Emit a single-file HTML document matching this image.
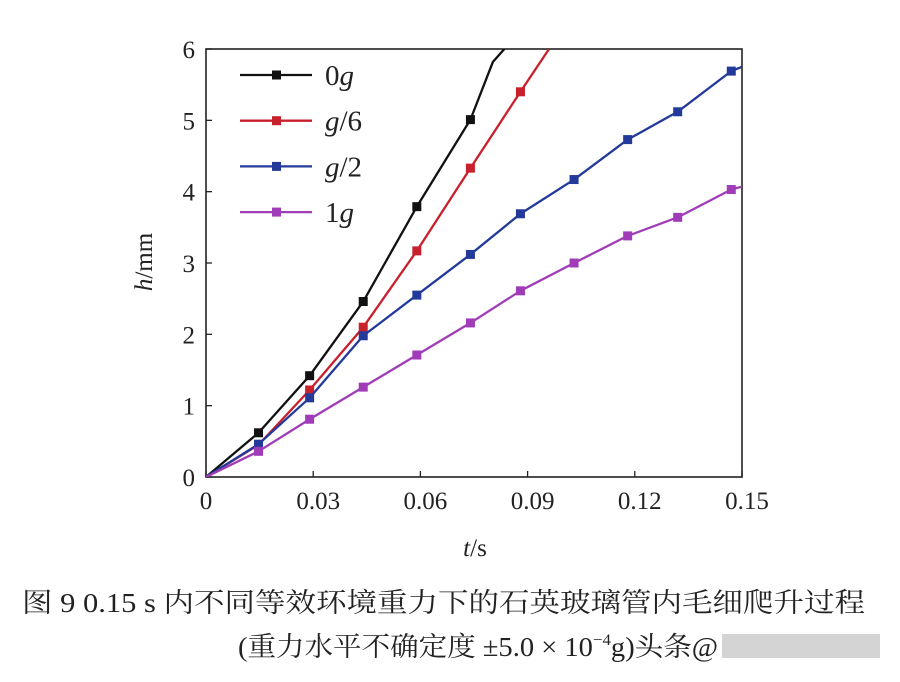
<!DOCTYPE html>
<html><head><meta charset="utf-8"><style>
body{margin:0;background:#fff;}
svg text{font-family:"Liberation Serif","Noto Serif CJK SC",serif;fill:#222;}
</style></head><body>
<svg width="900" height="677" xmlns="http://www.w3.org/2000/svg">
<g id="grid"></g>
<g id="series"></g>
<g id="legend"></g>
<text x="475" y="556" font-size="25" text-anchor="middle"><tspan font-style="italic">t</tspan>/s</text>
<text transform="translate(152,262) rotate(-90)" font-size="25" text-anchor="middle"><tspan font-style="italic">h</tspan>/mm</text>
<text x="22" y="612" font-size="27" textLength="843" lengthAdjust="spacingAndGlyphs">图 9  0.15 s 内不同等效环境重力下的石英玻璃管内毛细爬升过程</text>
<text x="238" y="656" font-size="27" textLength="480" lengthAdjust="spacingAndGlyphs">(重力水平不确定度 ±5.0 × 10<tspan font-size="16" dy="-11">−4</tspan><tspan dy="11">g)头条@</tspan></text>
<rect x="722" y="634" width="158" height="24" fill="#d4d4d4"/>
</svg>
<script>
const xTicks=[0,0.03,0.06,0.09,0.12,0.15];
const xTickLabels=["0","0.03","0.06","0.09","0.12","0.15"];
const yTicks=[0,1,2,3,4,5,6];
const seriesNames=["0g","g/6","g/2","1g"];
const seriesColors=["#111111","#c8202c","#233a9a","#a03cb8"];
const t0g=[0,0.0147,0.029,0.044,0.059,0.074,0.0803,0.0835];
const h0g=[0,0.62,1.42,2.46,3.79,5.01,5.82,6.0];
const m0g=[1,2,3,4,5];
const tg6=[0,0.0147,0.029,0.044,0.059,0.074,0.088,0.096];
const hg6=[0,0.45,1.22,2.10,3.17,4.33,5.40,6.0];
const mg6=[2,3,4,5,6];
const tg2=[0,0.0147,0.029,0.044,0.059,0.074,0.088,0.103,0.118,0.132,0.147,0.15];
const hg2=[0,0.46,1.11,1.98,2.55,3.12,3.69,4.17,4.73,5.12,5.69,5.75];
const mg2=[1,2,3,4,5,6,7,8,9,10];
const t1g=[0,0.0147,0.029,0.044,0.059,0.074,0.088,0.103,0.118,0.132,0.147,0.15];
const h1g=[0,0.36,0.81,1.26,1.71,2.16,2.61,3.0,3.38,3.64,4.03,4.07];
const m1g=[1,2,3,4,5,6,7,8,9,10];
const X0=206,X1=742,Y0=477,Y1=49;
const sx=v=>X0+(v/0.15)*(X1-X0);
const sy=v=>Y0-(v/6)*(Y0-Y1);
const NS="http://www.w3.org/2000/svg";
function mk(tag,attrs,parent){const e=document.createElementNS(NS,tag);for(const k in attrs)e.setAttribute(k,attrs[k]);parent.appendChild(e);return e;}
const grid=document.getElementById('grid');
const frame=mk('rect',{x:X0,y:Y1,width:X1-X0,height:Y0-Y1,fill:'none',stroke:'#222','stroke-width':1.6},grid);


xTicks.forEach((v,i)=>{
 const l=mk('line',{x1:sx(v),x2:sx(v),y1:Y0,y2:Y0-6,stroke:'#222','stroke-width':1.3},grid);
 
 
 const t=mk('text',{x:sx(v)+(i==0?0:5),y:Y0+32,'font-size':25,'text-anchor':'middle'},grid);
 t.textContent=xTickLabels[i];
 
 
});
yTicks.forEach(v=>{
 const l=mk('line',{x1:X0,x2:X0+6,y1:sy(v),y2:sy(v),stroke:'#222','stroke-width':1.3},grid);
 
 
 const t=mk('text',{x:X0-11,y:sy(v)+9,'font-size':25,'text-anchor':'end'},grid);
 t.textContent=String(v);
 
 
});
const sg=document.getElementById('series');
const clip=mk('clipPath',{id:'pc'},sg);mk('rect',{x:X0,y:Y1,width:X1-X0,height:Y0-Y1},clip);
const all=[[t0g,h0g,m0g],[tg6,hg6,mg6],[tg2,hg2,mg2],[t1g,h1g,m1g]];
all.forEach((s,k)=>{
 const [ts,hs,ms]=s;
 const p=mk('polyline',{points:ts.map((t,i)=>sx(t)+','+sy(hs[i])).join(' '),fill:'none',stroke:seriesColors[k],'stroke-width':2.3,'stroke-linejoin':'round','clip-path':'url(#pc)'},sg);
 
 
 ms.forEach(i=>{
  const r=mk('rect',{x:sx(ts[i])-4.5,y:sy(hs[i])-4.5,width:9,height:9,fill:seriesColors[k]},sg);
  
  
 });
});
const lg=document.getElementById('legend');
seriesNames.forEach((n,k)=>{
 const y=75+k*45.7;
 const l=mk('line',{x1:240,x2:312,y1:y,y2:y,stroke:seriesColors[k],'stroke-width':2.3},lg);
 
 
 const r=mk('rect',{x:272,y:y-4.5,width:9,height:9,fill:seriesColors[k]},lg);
 
 
 const t=mk('text',{x:325,y:y+10,'font-size':29},lg);
 if(n==='0g'){t.innerHTML='0<tspan font-style="italic">g</tspan>';}
 else if(n==='1g'){t.innerHTML='1<tspan font-style="italic">g</tspan>';}
 else{t.innerHTML='<tspan font-style="italic">g</tspan>'+n.slice(1);}
 
 
});
</script>
</body></html>
